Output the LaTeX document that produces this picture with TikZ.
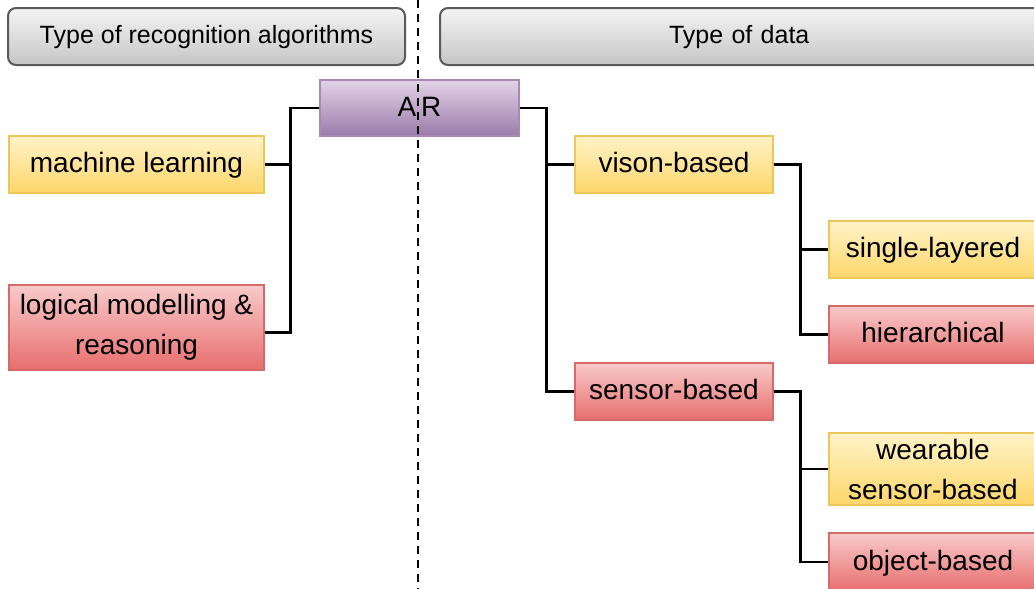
\documentclass[tikz,border=0pt]{standalone}
\usepackage{fontspec}
\setmainfont{Liberation Sans}
\begin{document}
\begin{tikzpicture}[x=1pt,y=-1pt,
  base/.style={draw, line width=1.2pt, align=center, inner sep=0pt,
    font=\fontsize{28}{40}\selectfont},
  one/.style={text height=20pt, text depth=4pt},
  yel/.style={base, top color=yelT, bottom color=yelB, draw=yelD},
  red/.style={base, top color=redT, bottom color=redB, draw=redD},
  pur/.style={base, top color=purT, bottom color=purB, draw=purD},
  hdr/.style={draw=hdrD, line width=2pt, rounded corners=8pt, top color=hdrT, bottom color=hdrB,
    inner sep=0pt, text height=18pt, text depth=4pt, font=\fontsize{25}{30}\selectfont},
  conn/.style={line width=2.5pt, black},
  sep/.style={line width=2.5pt, dash pattern=on 8pt off 6pt}
]
\definecolor{yelT}{HTML}{FFF3C8}
\definecolor{yelB}{HTML}{FDD66A}
\definecolor{yelD}{HTML}{EBC75A}
\definecolor{redT}{HTML}{F8CACA}
\definecolor{redB}{HTML}{E86E6E}
\definecolor{redD}{HTML}{D46A6A}
\definecolor{purT}{HTML}{E3D3E8}
\definecolor{purB}{HTML}{9B7BA9}
\definecolor{purD}{HTML}{A888B5}
\definecolor{hdrT}{HTML}{F4F4F4}
\definecolor{hdrB}{HTML}{C6C6C6}
\definecolor{hdrD}{HTML}{5A5A5A}
\useasboundingbox (0,0) rectangle (1034,589);
\clip (0,0) rectangle (1034,589);

% headers
\node[hdr, minimum width=397pt, minimum height=57pt] (h1) at (206.5,36.5) {Type of recognition algorithms};
\node[hdr, minimum width=620pt, minimum height=57pt, text width=600pt, align=left] (h2) at (750,36.5) {\hspace*{219pt}Type of data};

% nodes
\node[pur, one, minimum width=199pt, minimum height=56pt] (ar) at (419.5,108) {A\kern5pt R};
\node[yel, one, minimum width=255pt, minimum height=57pt] (ml) at (136.5,164.5) {machine learning};
\node[red, minimum width=255pt, minimum height=85pt] (lm) at (136.5,327.5) {logical modelling \&\\reasoning};
\node[yel, one, minimum width=198pt, minimum height=57pt] (vb) at (674,164.5) {vison-based};
\node[red, one, minimum width=198pt, minimum height=57pt] (sb) at (674,391.5) {sensor-based};
\node[yel, one, minimum width=208pt, minimum height=57pt] (sl) at (933,249.5) {single-layered};
\node[red, one, minimum width=208pt, minimum height=57pt] (hi) at (933,334.5) {hierarchical};
\node[yel, minimum width=208pt, minimum height=72pt] (ws) at (933,469) {wearable\\sensor-based};
\node[red, one, minimum width=208pt, minimum height=58pt] (ob) at (933,562) {object-based};

% connectors
\draw[conn] (ar.west) -- ++(-29,0) |- (ml.east);
\draw[conn] (ar.west) -- ++(-29,0) |- ([yshift=-5pt]lm.east);
\draw[conn] (ar.east) -- ++(27,0) |- (vb.west);
\draw[conn] (ar.east) -- ++(27,0) |- (sb.west);
\draw[conn] (vb.east) -- ++(27,0) |- (sl.west);
\draw[conn] (vb.east) -- ++(27,0) |- (hi.west);
\draw[conn] (sb.east) -- ++(27,0) |- (ws.west);
\draw[conn] (sb.east) -- ++(27,0) |- (ob.west);

% separator
\coordinate (st) at (418,0);
\coordinate (sbot) at (418,589);
\draw[sep] (st) -- (sbot);
\end{tikzpicture}
\end{document}
